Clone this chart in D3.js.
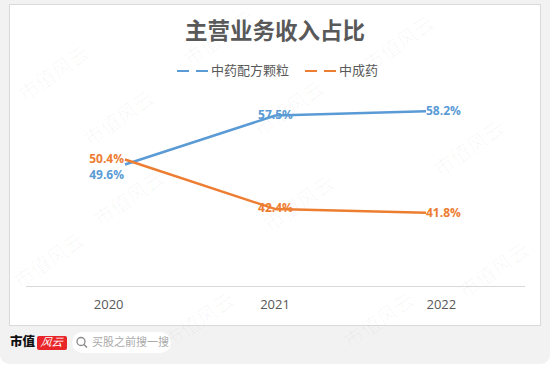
<!DOCTYPE html>
<html>
<head>
<meta charset="utf-8">
<script src="https://cdn.jsdelivr.net/npm/d3@7"></script>
<style>
html,body{margin:0;padding:0;background:#fff;}
svg{display:block;}
</style>
</head>
<body>
<svg id="chart" width="550" height="365"></svg>
<script>
const years = ["2020", "2021", "2022"];
const granules = [49.6, 57.5, 58.2];      // 中药配方颗粒
const patentMed = [50.4, 42.4, 41.8];     // 中成药
const seriesNames = ["中药配方颗粒", "中成药"];
const seriesColors = ["#5B9BD5", "#ED7D31"];
const title = "主营业务收入占比";

const svg = d3.select("#chart");
const font = "'Noto Sans CJK SC','Open Sans',sans-serif";

// background card
svg.append("rect").attr("x", 0).attr("y", -10).attr("width", 550).attr("height", 374)
  .attr("rx", 9).attr("fill", "#f2f2f2");
svg.append("rect").attr("x", 9.5).attr("y", 4.5).attr("width", 531).attr("height", 321)
  .attr("fill", "#fff").attr("stroke", "#d9d9d9").attr("stroke-width", 1);

// watermarks
const wm = [[55,75],[130,200],[300,205],[470,150],[220,40],[400,45],[50,262],[200,322],[380,322],[495,272],[290,110],[120,120]];
svg.append("g").selectAll("text").data(wm).join("text")
  .attr("transform", d => `translate(${d[0]},${d[1]}) rotate(-35)`)
  .attr("text-anchor", "middle").attr("dominant-baseline", "middle")
  .attr("font-family", "'Noto Sans CJK SC',serif").attr("font-size", 20)
  .attr("fill", "#000").attr("fill-opacity", 0.03)
  .text("市值风云");

// title
svg.append("text").attr("x", 275).attr("y", 33)
  .attr("text-anchor", "middle").attr("dominant-baseline", "middle")
  .attr("font-family", font).attr("font-size", 22.5).attr("font-weight", "bold")
  .attr("fill", "#595959").text(title);

// legend
const legendItems = [{x: 177}, {x: 305}];
const lg = svg.append("g");
seriesNames.forEach((name, i) => {
  const lx = legendItems[i].x;
  lg.append("line").attr("x1", lx).attr("x2", lx + 32).attr("y1", 71).attr("y2", 71)
    .attr("stroke", seriesColors[i]).attr("stroke-width", 2).attr("stroke-dasharray", "12,7");
  lg.append("text").attr("x", lx + 34).attr("y", 71).attr("dominant-baseline", "middle")
    .attr("font-family", font).attr("font-size", 13).attr("fill", "#595959").text(name);
});

// scales
const y = d3.scaleLinear().domain([30, 70]).range([286, 38]);
const xAxisScale = d3.scaleBand().domain(years).range([25.5, 524.5]);
const xLine = d3.scalePoint().domain(years).range([125, 426]);

// x axis
const xAxis = svg.append("g").attr("transform", "translate(0,286)")
  .call(d3.axisBottom(xAxisScale).tickSize(0).tickPadding(14));
xAxis.select(".domain").attr("stroke", "#d9d9d9").attr("stroke-width", 1.2);
xAxis.selectAll("text").attr("font-family", "'Open Sans',sans-serif").attr("font-size", 13)
  .attr("fill", "#595959");

// lines
const series = [granules, patentMed];
const line = d3.line().x((d, i) => xLine(years[i])).y(d => y(d));
series.forEach((vals, s) => {
  svg.append("path").datum(vals).attr("d", line)
    .attr("fill", "none").attr("stroke", seriesColors[s]).attr("stroke-width", 2.5)
    .attr("stroke-linejoin", "round");
});

// data labels
function labelPos(s, i) {
  if (i === 0) return {dx: -1, dy: s === 0 ? 11.5 : 0, anchor: "end"};
  if (i === 1) return {dx: 0, dy: 0, anchor: "middle"};
  return {dx: 0, dy: 1, anchor: "start"};
}
series.forEach((vals, s) => {
  svg.append("g").selectAll("text").data(vals).join("text")
    .each(function(d, i) {
      const p = labelPos(s, i);
      d3.select(this).attr("x", xLine(years[i]) + p.dx).attr("y", y(d) + p.dy)
        .attr("text-anchor", p.anchor);
    })
    .attr("dominant-baseline", "middle")
    .attr("font-family", "'Open Sans',sans-serif").attr("font-size", 12).attr("font-weight", "bold")
    .attr("fill", seriesColors[s])
    .text(d => d.toFixed(1) + "%");
});

// footer
svg.append("text").attr("x", 10).attr("y", 343).attr("dominant-baseline", "middle")
  .attr("font-family", "'Noto Sans CJK SC',serif").attr("font-size", 12.5).attr("font-weight", "900")
  .attr("fill", "#111").text("市值");
svg.append("rect").attr("x", 37).attr("y", 336).attr("width", 30).attr("height", 14)
  .attr("rx", 2).attr("fill", "#e8262a");
svg.append("text").attr("x", 52).attr("y", 343.5).attr("text-anchor", "middle").attr("dominant-baseline", "middle")
  .attr("font-family", "'Noto Sans CJK SC',serif").attr("font-size", 11).attr("font-style", "italic")
  .attr("fill", "#fff").attr("transform", "skewX(-8) translate(48,0)").text("风云");
svg.append("rect").attr("x", 72).attr("y", 332).attr("width", 99).attr("height", 21)
  .attr("rx", 10.5).attr("fill", "#fff");
svg.append("circle").attr("cx", 81).attr("cy", 341.5).attr("r", 4)
  .attr("fill", "none").attr("stroke", "#888").attr("stroke-width", 1.3);
svg.append("line").attr("x1", 84).attr("y1", 344.5).attr("x2", 87).attr("y2", 347.5)
  .attr("stroke", "#888").attr("stroke-width", 1.4);
svg.append("text").attr("x", 92).attr("y", 343).attr("dominant-baseline", "middle")
  .attr("font-family", font).attr("font-size", 11).attr("fill", "#aaa").text("买股之前搜一搜");
</script>
</body>
</html>
